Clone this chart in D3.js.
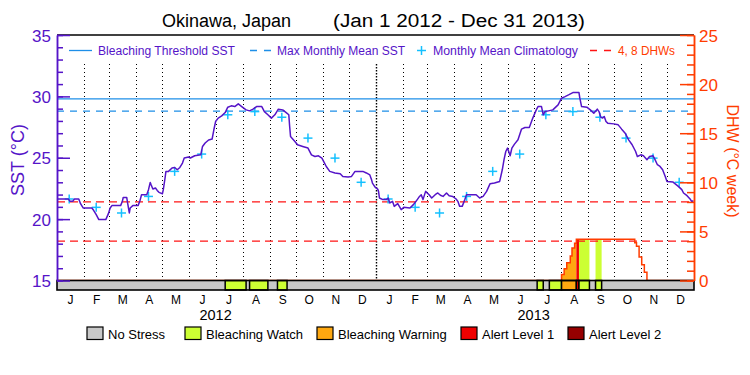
<!DOCTYPE html>
<html>
<head>
<meta charset="utf-8">
<script src="https://cdn.jsdelivr.net/npm/d3@7/dist/d3.min.js"></script>
<style>
	body { margin: 0; background: #fff; }
	svg { display: block; font-family: "Liberation Sans", Arial, sans-serif; }
</style>
</head>
<body>
<div id="chart"></div>
<script>

var title = "Okinawa, Japan"
var subtitle = "(Jan 1 2012 - Dec 31 2013)"

var periodStart = "2012-01-01"
var periodEnd = "2014-01-01"

// daily SST (degC)
var sstDates = ["2012-01-01","2012-01-14","2012-01-16","2012-01-19","2012-01-21","2012-01-26","2012-01-28","2012-01-31","2012-02-10","2012-02-12","2012-02-15","2012-02-18","2012-02-26","2012-02-29","2012-03-02","2012-03-04","2012-03-14","2012-03-16","2012-03-17","2012-03-21","2012-03-22","2012-03-24","2012-03-25","2012-03-28","2012-04-03","2012-04-05","2012-04-07","2012-04-13","2012-04-15","2012-04-17","2012-04-18","2012-04-20","2012-04-23","2012-04-25","2012-04-27","2012-05-01","2012-05-02","2012-05-04","2012-05-05","2012-05-08","2012-05-12","2012-05-15","2012-05-18","2012-05-21","2012-05-24","2012-05-26","2012-05-31","2012-06-02","2012-06-07","2012-06-14","2012-06-16","2012-06-19","2012-06-23","2012-06-27","2012-06-29","2012-07-01","2012-07-04","2012-07-08","2012-07-12","2012-07-15","2012-07-19","2012-07-23","2012-07-27","2012-07-31","2012-08-05","2012-08-09","2012-08-13","2012-08-17","2012-08-23","2012-08-26","2012-08-30","2012-09-03","2012-09-07","2012-09-11","2012-09-16","2012-09-20","2012-09-23","2012-09-24","2012-09-25","2012-09-30","2012-10-03","2012-10-09","2012-10-15","2012-10-19","2012-10-23","2012-10-27","2012-10-31","2012-11-03","2012-11-05","2012-11-09","2012-11-15","2012-11-21","2012-11-24","2012-11-30","2012-12-04","2012-12-08","2012-12-17","2012-12-21","2012-12-25","2012-12-27","2012-12-28","2012-12-31",
	"2013-01-03","2013-01-04","2013-01-05","2013-01-09","2013-01-13","2013-01-15","2013-01-17","2013-01-20","2013-01-22","2013-01-26","2013-01-30","2013-02-02","2013-02-09","2013-02-13","2013-02-16","2013-02-20","2013-02-22","2013-02-24","2013-02-27","2013-03-03","2013-03-06","2013-03-10","2013-03-13","2013-03-16","2013-03-19","2013-03-23","2013-03-26","2013-03-30","2013-04-03","2013-04-05","2013-04-07","2013-04-10","2013-04-13","2013-04-15","2013-04-26","2013-04-30","2013-05-04","2013-05-08","2013-05-12","2013-05-17","2013-05-23","2013-05-26","2013-05-28","2013-05-30","2013-06-01","2013-06-04","2013-06-06","2013-06-09","2013-06-13","2013-06-17","2013-06-21","2013-06-26","2013-06-30","2013-07-04","2013-07-06","2013-07-10","2013-07-12","2013-07-14","2013-07-18","2013-07-23","2013-07-29","2013-08-02","2013-08-06","2013-08-10","2013-08-15","2013-08-22","2013-08-23","2013-08-25","2013-08-31","2013-09-04","2013-09-08","2013-09-12","2013-09-14","2013-09-16","2013-09-18","2013-09-20","2013-09-22","2013-09-24","2013-10-01","2013-10-06","2013-10-10","2013-10-14","2013-10-18","2013-10-22","2013-10-26","2013-10-28","2013-11-01","2013-11-04","2013-11-08","2013-11-11","2013-11-15","2013-11-17","2013-11-20","2013-11-23","2013-11-26","2013-11-29","2013-12-01","2013-12-08","2013-12-14","2013-12-18","2013-12-20","2013-12-24","2013-12-28","2013-12-30","2013-12-31"]

var sstValues = [21.64,21.64,21.45,21.45,21.64,21.64,21.26,20.91,20.91,20.72,20.37,19.96,19.96,20.45,20.91,21.1,21.1,21.45,21.77,21.77,21.32,20.5,20.91,21.1,21.1,21.45,21.99,21.99,22.4,22.99,22.8,22.45,22.54,22.34,22.18,22.07,22.4,23.35,23.89,23.89,24.16,24.21,24.02,24.21,24.57,24.98,25.06,24.98,25.16,25.24,25.92,26.2,26.45,26.52,27.28,27.95,28.23,28.41,28.68,29.12,29.23,29.17,29.39,29.17,28.9,28.82,28.96,29.17,29.17,28.76,28.5,28.23,28.5,28.96,28.9,28.68,28.5,27.55,26.73,26.33,26.06,25.92,25.79,25.24,25.1,25.16,24.97,24.57,24.29,23.89,23.76,23.7,23.48,23.43,23.48,23.89,23.89,23.76,23.6,23.2,22.94,22.6,
	22.45,22.26,21.72,21.59,21.59,21.72,21.32,21.45,21.04,21.26,20.77,20.96,20.91,21.18,21.45,21.85,21.99,21.59,22.26,21.99,21.72,21.99,22.13,21.94,21.85,22.13,21.91,21.85,21.64,21.45,21.04,21.04,21.59,21.99,21.99,21.72,21.85,22.26,22.89,22.94,23.07,24.02,24.84,25.51,25.79,25.16,25.79,26.11,26.46,27.33,27.46,27.46,28.23,28.9,29.17,29.17,28.5,28.76,28.82,28.9,29.31,29.85,29.98,30.12,30.31,30.31,29.85,29.17,29.12,28.9,28.63,28.96,28.76,28.31,28.23,28.36,27.95,27.82,27.76,27.68,27.33,27.0,26.46,26.06,25.51,25.1,25.24,25.16,24.84,25.1,25.16,24.89,24.43,24.29,24.02,23.48,23.07,23.02,22.67,22.4,22.13,21.91,21.59,21.37,21.53]

// monthly mean climatology, Jan..Dec (degC)
var climValues = [21.64, 20.96, 20.5, 21.85, 23.89, 25.3, 28.5, 28.76, 28.3, 26.6, 24.97, 23.0]

var bleachingThreshold = 29.8
var maxMonthlyMean = 28.8
var dhwLevels = [4, 8]

// degree heating weeks, step values
var dhwDates = ["2012-01-01","2013-08-02","2013-08-05","2013-08-08","2013-08-12","2013-08-14","2013-08-17","2013-08-19","2013-10-25","2013-10-27","2013-10-30","2013-11-02","2013-11-05","2013-11-08","2013-12-31"]
var dhwValues = [0, 0.6, 1.2, 1.8, 2.5, 3.3, 3.8, 4.2, 3.85, 3.5, 2.4, 1.6, 0.85, 0, 0]

// stress periods (level index into stressNames)
var stressStart = ["2012-07-12","2012-08-09","2012-09-10","2013-07-05","2013-07-19","2013-08-02","2013-08-19","2013-08-22","2013-09-10"]
var stressEnd   = ["2012-08-05","2012-08-30","2012-09-21","2013-07-12","2013-08-02","2013-08-19","2013-08-22","2013-09-03","2013-09-17"]
var stressLevel = [1, 1, 1, 1, 1, 2, 3, 1, 1]

var stressNames = ["No Stress", "Bleaching Watch", "Bleaching Warning", "Alert Level 1", "Alert Level 2"]
var stressColors = ["#c8c8c8", "#ccff33", "#ffa810", "#f00000", "#960000"]

var monthLabels = ["J","F","M","A","M","J","J","A","S","O","N","D"]
var years = [2012, 2013]

var sstTicks = [15, 20, 25, 30, 35]
var dhwTicks = [0, 5, 10, 15, 20, 25]

var purple = "#5514c8"
var orange = "#ff3c00"
var blue = "#1e8fe8"
var cyan = "#14c0ff"
var red = "#ff1414"

var parse = d3.timeParse("%Y-%m-%d")

var plotLeft = 57, plotRight = 694, plotTop = 35, plotBottom = 280.5, barBottom = 290

var x = d3.scaleTime().domain([parse(periodStart), parse(periodEnd)]).range([plotLeft, plotRight])
var ySst = d3.scaleLinear().domain([15, 35]).range([plotBottom, plotTop])
var yDhw = d3.scaleLinear().domain([0, 25]).range([plotBottom, plotTop])

var svg = d3.select("#chart").append("svg")
	.attr("width", 750)
	.attr("height", 375)

var defs = svg.append("defs")

// title
svg.append("text")
	.attr("x", 162).attr("y", 27)
	.attr("font-size", 18)
	.text(title)

svg.append("text")
	.attr("x", 333).attr("y", 27)
	.attr("font-size", 18)
	.attr("textLength", 252)
	.attr("lengthAdjust", "spacingAndGlyphs")
	.text(subtitle)

// month grid
var months = d3.timeMonth.range(parse("2012-02-01"), parse(periodEnd))

svg.append("g").selectAll("line").data(months).enter()
	.append("line")
	.attr("x1", d => Math.round(x(d)) + 0.5)
	.attr("x2", d => Math.round(x(d)) + 0.5)
	.attr("y1", 64)
	.attr("y2", plotBottom)
	.attr("stroke", "#000")
	.attr("stroke-width", d => d.getMonth() == 0 ? 1.4 : 1)
	.attr("stroke-dasharray", d => d.getMonth() == 0 ? "1.5,1.5" : "1,3")

// DHW fills under the curve, coloured by the stress level of each period
var dhwData = dhwDates.map((d, i) => ({ date: parse(d), value: dhwValues[i] }))

var dhwArea = d3.area()
	.curve(d3.curveStepAfter)
	.x(d => x(d.date))
	.y0(plotBottom)
	.y1(d => yDhw(d.value))

stressStart.forEach(function(s, i) {
	if (stressLevel[i] < 1) return
	defs.append("clipPath").attr("id", "clip" + i)
		.append("rect")
		.attr("x", x(parse(s)))
		.attr("width", x(parse(stressEnd[i])) - x(parse(s)))
		.attr("y", plotTop)
		.attr("height", plotBottom - plotTop)
	svg.append("path")
		.datum(dhwData)
		.attr("clip-path", "url(#clip" + i + ")")
		.attr("fill", stressColors[stressLevel[i]])
		.attr("d", dhwArea)
})

// thresholds
svg.append("line")
	.attr("x1", plotLeft).attr("x2", plotRight)
	.attr("y1", ySst(bleachingThreshold)).attr("y2", ySst(bleachingThreshold))
	.attr("stroke", blue).attr("stroke-width", 1.3)

svg.append("line")
	.attr("x1", plotLeft).attr("x2", plotRight)
	.attr("y1", ySst(maxMonthlyMean)).attr("y2", ySst(maxMonthlyMean))
	.attr("stroke", blue).attr("stroke-width", 1.3)
	.attr("stroke-dasharray", "7,6")

svg.append("g").selectAll("line").data(dhwLevels).enter()
	.append("line")
	.attr("x1", plotLeft).attr("x2", plotRight)
	.attr("y1", d => yDhw(d)).attr("y2", d => yDhw(d))
	.attr("stroke", red).attr("stroke-width", 1.3)
	.attr("stroke-dasharray", "8,5")

// climatology crosses at mid month
var climData = []
years.forEach(function(yr) {
	climValues.forEach(function(v, m) {
		climData.push({ date: new Date(yr, m, 15), value: v })
	})
})

var crosses = svg.append("g").selectAll("g").data(climData).enter()
	.append("g")
	.attr("transform", d => `translate(${x(d.date)},${ySst(d.value)})`)
	.attr("stroke", cyan)
	.attr("stroke-width", 1.5)

crosses.append("line").attr("x1", -4.5).attr("x2", 4.5)
crosses.append("line").attr("y1", -4.5).attr("y2", 4.5)

// SST line
var sstData = sstDates.map((d, i) => ({ date: parse(d), value: sstValues[i] }))

svg.append("path")
	.datum(sstData)
	.attr("fill", "none")
	.attr("stroke", purple)
	.attr("stroke-width", 1.5)
	.attr("stroke-linejoin", "round")
	.attr("d", d3.line().x(d => x(d.date)).y(d => ySst(d.value)))

// DHW line
svg.append("path")
	.datum(dhwData)
	.attr("fill", "none")
	.attr("stroke", orange)
	.attr("stroke-width", 1.5)
	.attr("d", d3.line().curve(d3.curveStepAfter).x(d => x(d.date)).y(d => yDhw(d.value)))

// stress bar
var bar = svg.append("g")

bar.append("rect")
	.attr("x", plotLeft).attr("y", plotBottom)
	.attr("width", plotRight - plotLeft).attr("height", barBottom - plotBottom)
	.attr("fill", stressColors[0])

bar.selectAll(".seg").data(stressStart).enter()
	.append("rect")
	.attr("class", "seg")
	.attr("x", d => x(parse(d)))
	.attr("width", (d, i) => x(parse(stressEnd[i])) - x(parse(d)))
	.attr("y", plotBottom).attr("height", barBottom - plotBottom)
	.attr("fill", (d, i) => stressColors[stressLevel[i]])
	.attr("stroke", "#000").attr("stroke-width", 1.5)

bar.append("rect")
	.attr("x", plotLeft).attr("y", plotBottom)
	.attr("width", plotRight - plotLeft).attr("height", barBottom - plotBottom)
	.attr("fill", "none")
	.attr("stroke", "#000").attr("stroke-width", 1.6)

// frame top
svg.append("line")
	.attr("x1", plotLeft).attr("x2", plotRight)
	.attr("y1", plotTop).attr("y2", plotTop)
	.attr("stroke", "#000").attr("stroke-width", 1.5)

// left axis
var leftMinor = svg.append("g")
	.attr("transform", `translate(${plotLeft},0)`)
	.call(d3.axisLeft(ySst).tickValues(d3.range(15, 36)).tickSizeInner(-6).tickSizeOuter(0).tickFormat(""))

var leftAxis = svg.append("g")
	.attr("transform", `translate(${plotLeft},0)`)
	.call(d3.axisLeft(ySst).tickValues(sstTicks).tickSizeInner(-13).tickSizeOuter(0).tickPadding(6))

;[leftMinor, leftAxis].forEach(function(g) {
	g.attr("color", purple)
	g.selectAll("line, path").attr("stroke-width", 1.5)
})
leftAxis.selectAll("text").attr("font-size", 17).attr("font-family", "Liberation Sans").attr("dy", "0.36em")

// right axis
var rightMinor = svg.append("g")
	.attr("transform", `translate(${plotRight},0)`)
	.call(d3.axisRight(yDhw).tickValues(d3.range(0, 26)).tickSizeInner(-7).tickSizeOuter(0).tickFormat(""))

var rightAxis = svg.append("g")
	.attr("transform", `translate(${plotRight},0)`)
	.call(d3.axisRight(yDhw).tickValues(dhwTicks).tickSizeInner(-14).tickSizeOuter(0).tickPadding(5))

;[rightMinor, rightAxis].forEach(function(g) {
	g.attr("color", orange)
	g.selectAll("line, path").attr("stroke-width", 1.5)
})
rightAxis.selectAll("text").attr("font-size", 17).attr("font-family", "Liberation Sans").attr("dy", "0.36em")

// axis titles
svg.append("text")
	.attr("transform", "translate(24,160) rotate(-90)")
	.attr("text-anchor", "middle")
	.attr("font-size", 18)
	.attr("fill", purple)
	.text("SST (°C)")

svg.append("text")
	.attr("transform", "translate(727,161) rotate(90)")
	.attr("text-anchor", "middle")
	.attr("font-size", 16)
	.attr("fill", orange)
	.text("DHW (°C week)")

// month and year labels
var allMonths = d3.timeMonth.range(parse(periodStart), parse(periodEnd))

svg.append("g").selectAll("text").data(allMonths).enter()
	.append("text")
	.attr("x", d => (x(d) + x(d3.timeMonth.offset(d, 1))) / 2)
	.attr("y", 303.5)
	.attr("text-anchor", "middle")
	.attr("font-size", 12)
	.text(d => monthLabels[d.getMonth()])

svg.append("g").selectAll("text").data(years).enter()
	.append("text")
	.attr("x", d => x(new Date(d, 6, 1)))
	.attr("y", 320)
	.attr("text-anchor", "middle")
	.attr("font-size", 14.5)
	.text(d => d)

// top legend
var legendY = 50.5
var topLegend = svg.append("g").attr("font-size", 12.5).attr("fill", purple)

topLegend.append("line")
	.attr("x1", 69).attr("x2", 92).attr("y1", legendY).attr("y2", legendY)
	.attr("stroke", blue).attr("stroke-width", 1.3)
topLegend.append("text").attr("x", 98).attr("y", legendY + 4.5)
	.attr("textLength", 137).attr("lengthAdjust", "spacingAndGlyphs")
	.text("Bleaching Threshold SST")

topLegend.append("line")
	.attr("x1", 250).attr("x2", 271).attr("y1", legendY).attr("y2", legendY)
	.attr("stroke", blue).attr("stroke-width", 1.3).attr("stroke-dasharray", "7,7")
topLegend.append("text").attr("x", 277).attr("y", legendY + 4.5)
	.attr("textLength", 128).attr("lengthAdjust", "spacingAndGlyphs")
	.text("Max Monthly Mean SST")

topLegend.append("line")
	.attr("x1", 417).attr("x2", 426).attr("y1", legendY).attr("y2", legendY)
	.attr("stroke", cyan).attr("stroke-width", 1.5)
topLegend.append("line")
	.attr("x1", 421.5).attr("x2", 421.5).attr("y1", legendY - 4.5).attr("y2", legendY + 4.5)
	.attr("stroke", cyan).attr("stroke-width", 1.5)
topLegend.append("text").attr("x", 433).attr("y", legendY + 4.5)
	.attr("textLength", 145).attr("lengthAdjust", "spacingAndGlyphs")
	.text("Monthly Mean Climatology")

topLegend.append("line")
	.attr("x1", 590).attr("x2", 611).attr("y1", legendY).attr("y2", legendY)
	.attr("stroke", red).attr("stroke-width", 1.3).attr("stroke-dasharray", "7,7")
topLegend.append("text").attr("x", 618).attr("y", legendY + 4.5)
	.attr("fill", orange)
	.attr("textLength", 57).attr("lengthAdjust", "spacingAndGlyphs")
	.text("4, 8 DHWs")

// stress legend
var legendX = [87, 185, 317, 461, 568]

var keys = svg.append("g").selectAll("g").data(stressNames).enter()
	.append("g")
	.attr("transform", (d, i) => `translate(${legendX[i]},327)`)

keys.append("rect")
	.attr("width", 16).attr("height", 12.5)
	.attr("fill", (d, i) => stressColors[i])
	.attr("stroke", "#000").attr("stroke-width", 1.2)

keys.append("text")
	.attr("x", 21).attr("y", 11.5)
	.attr("font-size", 13)
	.text(d => d)

</script>
</body>
</html>
